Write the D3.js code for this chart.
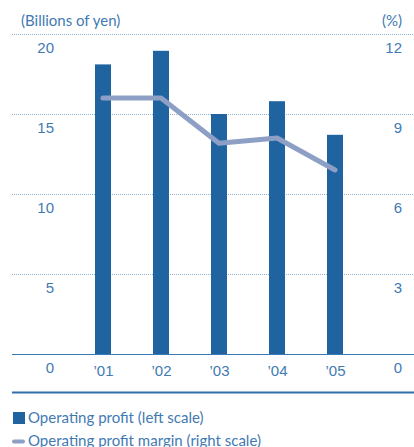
<!DOCTYPE html>
<html>
<head>
<meta charset="utf-8">
<script src="https://cdn.jsdelivr.net/npm/d3@7/dist/d3.min.js"></script>
<style>
  html, body { margin: 0; padding: 0; background: #fff; }
  svg { display: block; font-family: "Lato", "Open Sans", sans-serif; }
</style>
</head>
<body>
<svg id="chart" width="414" height="447"></svg>
<script>
// Fiscal years shown on the category axis
const years = ["’01", "’02", "’03", "’04", "’05"];
// Operating profit, billions of yen (left scale)
const operatingProfit = [18.1, 18.95, 15.0, 15.8, 13.7];
// Operating profit margin, percent (right scale)
const operatingMargin = [9.6, 9.6, 7.9, 8.1, 6.9];
// Tick values for each scale
const leftTicks = [0, 5, 10, 15, 20];
const rightTicks = [0, 3, 6, 9, 12];

const barColor = "#1f64a0";
const lineColor = "#8e9fc6";
const textColor = "#3f7ab3";
const gridColor = "#8fb0cf";

const svg = d3.select("#chart");

const plotTop = 34, plotBottom = 354;
const x = d3.scalePoint().domain(years).range([103, 335]);
const yLeft = d3.scaleLinear().domain([0, 20]).range([plotBottom, plotTop]);
const yRight = d3.scaleLinear().domain([0, 12]).range([plotBottom, plotTop]);

// Dotted gridlines (the zero line is drawn solid below)
svg.append("g")
  .selectAll("line")
  .data(leftTicks.filter(d => d > 0))
  .join("line")
  .attr("x1", 12).attr("x2", 414)
  .attr("y1", d => yLeft(d) + 0.5).attr("y2", d => yLeft(d) + 0.5)
  .attr("stroke", gridColor)
  .attr("stroke-width", 1)
  .attr("stroke-dasharray", "1,1");

// Left axis labels
const leftAxis = d3.axisLeft(yLeft).tickValues(leftTicks).tickSize(0).tickPadding(0);
const gLeft = svg.append("g").attr("transform", "translate(54,0)").call(leftAxis);
gLeft.select(".domain").remove();
gLeft.selectAll("text")
  .attr("dy", "1.25em")
  .attr("fill", textColor)
  .style("font-size", "15px")
  .attr("text-anchor", "end");

// Right axis labels
const rightAxis = d3.axisRight(yRight).tickValues(rightTicks).tickSize(0).tickPadding(0);
const gRight = svg.append("g").attr("transform", "translate(402,0)").call(rightAxis);
gRight.select(".domain").remove();
gRight.selectAll("text")
  .attr("dy", "1.25em")
  .attr("fill", textColor)
  .style("font-size", "15px")
  .attr("text-anchor", "end");

// Bars
const barWidth = 16;
svg.append("g")
  .selectAll("rect")
  .data(operatingProfit)
  .join("rect")
  .attr("x", (d, i) => x(years[i]) - barWidth / 2)
  .attr("y", d => yLeft(d))
  .attr("width", barWidth)
  .attr("height", d => yLeft(0) - yLeft(d))
  .attr("fill", barColor);

// Zero baseline
svg.append("line")
  .attr("x1", 12).attr("x2", 414)
  .attr("y1", plotBottom + 0.5).attr("y2", plotBottom + 0.5)
  .attr("stroke", "#3a78b3").attr("stroke-width", 1.2);

// Category labels
const xAxis = d3.axisBottom(x).tickSize(0).tickPadding(0);
const gX = svg.append("g").attr("transform", `translate(0,${plotBottom + 8})`).call(xAxis);
gX.select(".domain").remove();
gX.selectAll("text")
  .attr("dy", "0.9em")
  .attr("fill", textColor)
  .style("font-size", "15px");

// Margin line
const line = d3.line()
  .x((d, i) => x(years[i]))
  .y(d => yRight(d));
svg.append("path")
  .datum(operatingMargin)
  .attr("d", line)
  .attr("fill", "none")
  .attr("stroke", lineColor)
  .attr("stroke-width", 5)
  .attr("stroke-linecap", "round")
  .attr("stroke-linejoin", "round");

// Unit captions
svg.append("text")
  .attr("x", 21).attr("y", 26)
  .attr("fill", textColor)
  .style("font-size", "15px")
  .text("(Billions of yen)");
svg.append("text")
  .attr("x", 402).attr("y", 26)
  .attr("text-anchor", "end")
  .attr("fill", textColor)
  .style("font-size", "15px")
  .text("(%)");

// Lower rule
svg.append("line")
  .attr("x1", 12).attr("x2", 414)
  .attr("y1", 392.5).attr("y2", 392.5)
  .attr("stroke", "#2f6eaa").attr("stroke-width", 2);

// Legend
const legend = svg.append("g");
legend.append("rect")
  .attr("x", 13).attr("y", 412).attr("width", 12).attr("height", 12)
  .attr("fill", barColor);
legend.append("text")
  .attr("x", 28).attr("y", 423)
  .attr("fill", textColor)
  .style("font-size", "15px")
  .text("Operating profit (left scale)");
legend.append("line")
  .attr("x1", 14).attr("x2", 23)
  .attr("y1", 441.5).attr("y2", 441.5)
  .attr("stroke", lineColor).attr("stroke-width", 4)
  .attr("stroke-linecap", "round");
legend.append("text")
  .attr("x", 28).attr("y", 446)
  .attr("fill", textColor)
  .style("font-size", "15px")
  .text("Operating profit margin (right scale)");
</script>
</body>
</html>
